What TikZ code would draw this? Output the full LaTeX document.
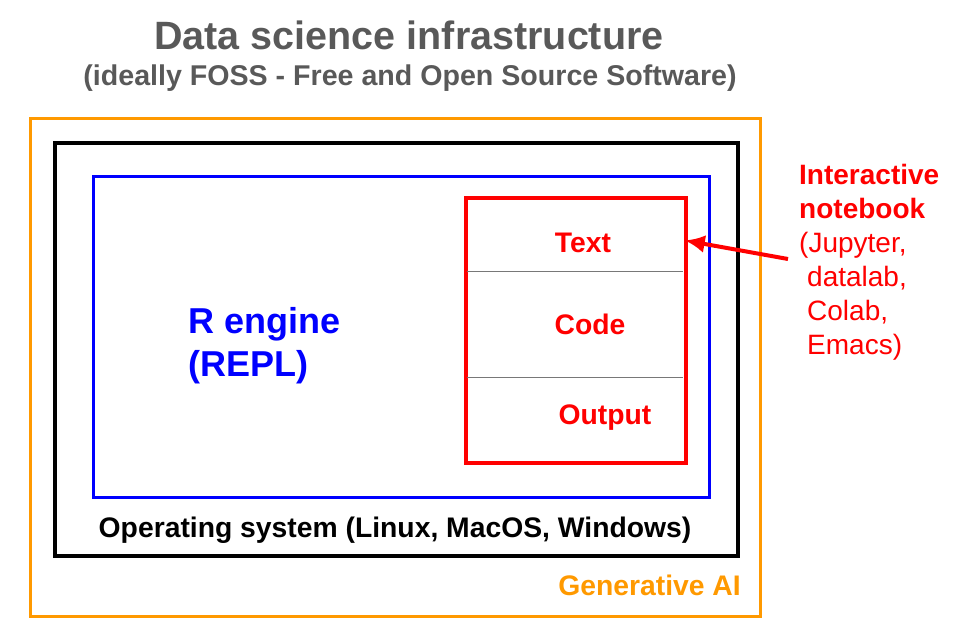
\documentclass[tikz,border=0pt]{standalone}
\usepackage{xcolor}
\usepackage{fontspec}
\usepackage{tikz}
\usetikzlibrary{arrows.meta,positioning}
\setmainfont{Liberation Sans}
\definecolor{titlegray}{RGB}{89,89,89}
\definecolor{aiorange}{RGB}{255,153,0}
\definecolor{rblue}{RGB}{0,0,255}
\definecolor{nbred}{RGB}{255,0,0}
\definecolor{sepgray}{RGB}{120,120,120}

\begin{document}
\begin{tikzpicture}[
  x=1pt,y=-1pt,
  box/.style={draw,inner sep=0pt,line join=miter},
  lbl/.style={font=\fontsize{28.3}{34}\selectfont\bfseries,anchor=base,inner sep=0pt},
  arr/.style={-{Latex[length=20pt,width=18pt]},line width=4pt,color=nbred},
]
\useasboundingbox (0,0) rectangle (957,632);

% title
\node[font=\fontsize{39.5}{44}\selectfont\bfseries,text=titlegray,anchor=base,inner sep=0pt] (title) at (409,49) {Data science infrastructure};
\node[lbl,font=\fontsize{28.6}{34}\selectfont\bfseries,text=titlegray] (subtitle) at (410,85) {(ideally FOSS - Free and Open Source Software)};

% nested layers
\node[box,draw=aiorange,line width=3pt,minimum width=730pt,minimum height=498pt] (ai) at (395,367) {};
\node[box,draw=black,line width=4.5pt,minimum width=683pt,minimum height=413pt] (os) at (396.5,349.5) {};
\node[box,draw=rblue,line width=3pt,minimum width=616pt,minimum height=321pt] (reng) at (401,336.5) {};
\node[box,draw=nbred,line width=3.5pt,minimum width=220pt,minimum height=265pt] (nb) at (576,330.5) {};

% notebook cells
\draw[sepgray,line width=1pt] (467,271) -- (683,271);
\draw[sepgray,line width=1pt] (467,377) -- (683,377);
\node[lbl,text=nbred] (txt) at (583,252) {Text};
\node[lbl,text=nbred] (code) at (590,334) {Code};
\node[lbl,text=nbred] (out) at (605,424) {Output};

\node[font=\fontsize{36}{43}\selectfont\bfseries,text=rblue,anchor=base west,inner sep=0pt,align=left] (repl) at (188,376) {R engine\\(REPL)};
\node[lbl] (oslbl) at (395,537) {Operating system (Linux, MacOS, Windows)};
\node[lbl,anchor=base east,text=aiorange] (genai) at (741,595) {Generative AI};

% notebook label
\node[font=\fontsize{28}{34}\selectfont,text=nbred,anchor=base west,inner sep=0pt,align=left] (nblbl) at (799,354)
  {\textbf{Interactive}\\\textbf{notebook}\\(Jupyter,\\\hspace{8pt}datalab,\\\hspace{8pt}Colab,\\\hspace{8pt}Emacs)};
\coordinate (nbfrom) at (788,259);
\draw[arr] (nbfrom) -- ([xshift=-3pt,yshift=2pt]nb.east |- txt.center);
\end{tikzpicture}
\end{document}
